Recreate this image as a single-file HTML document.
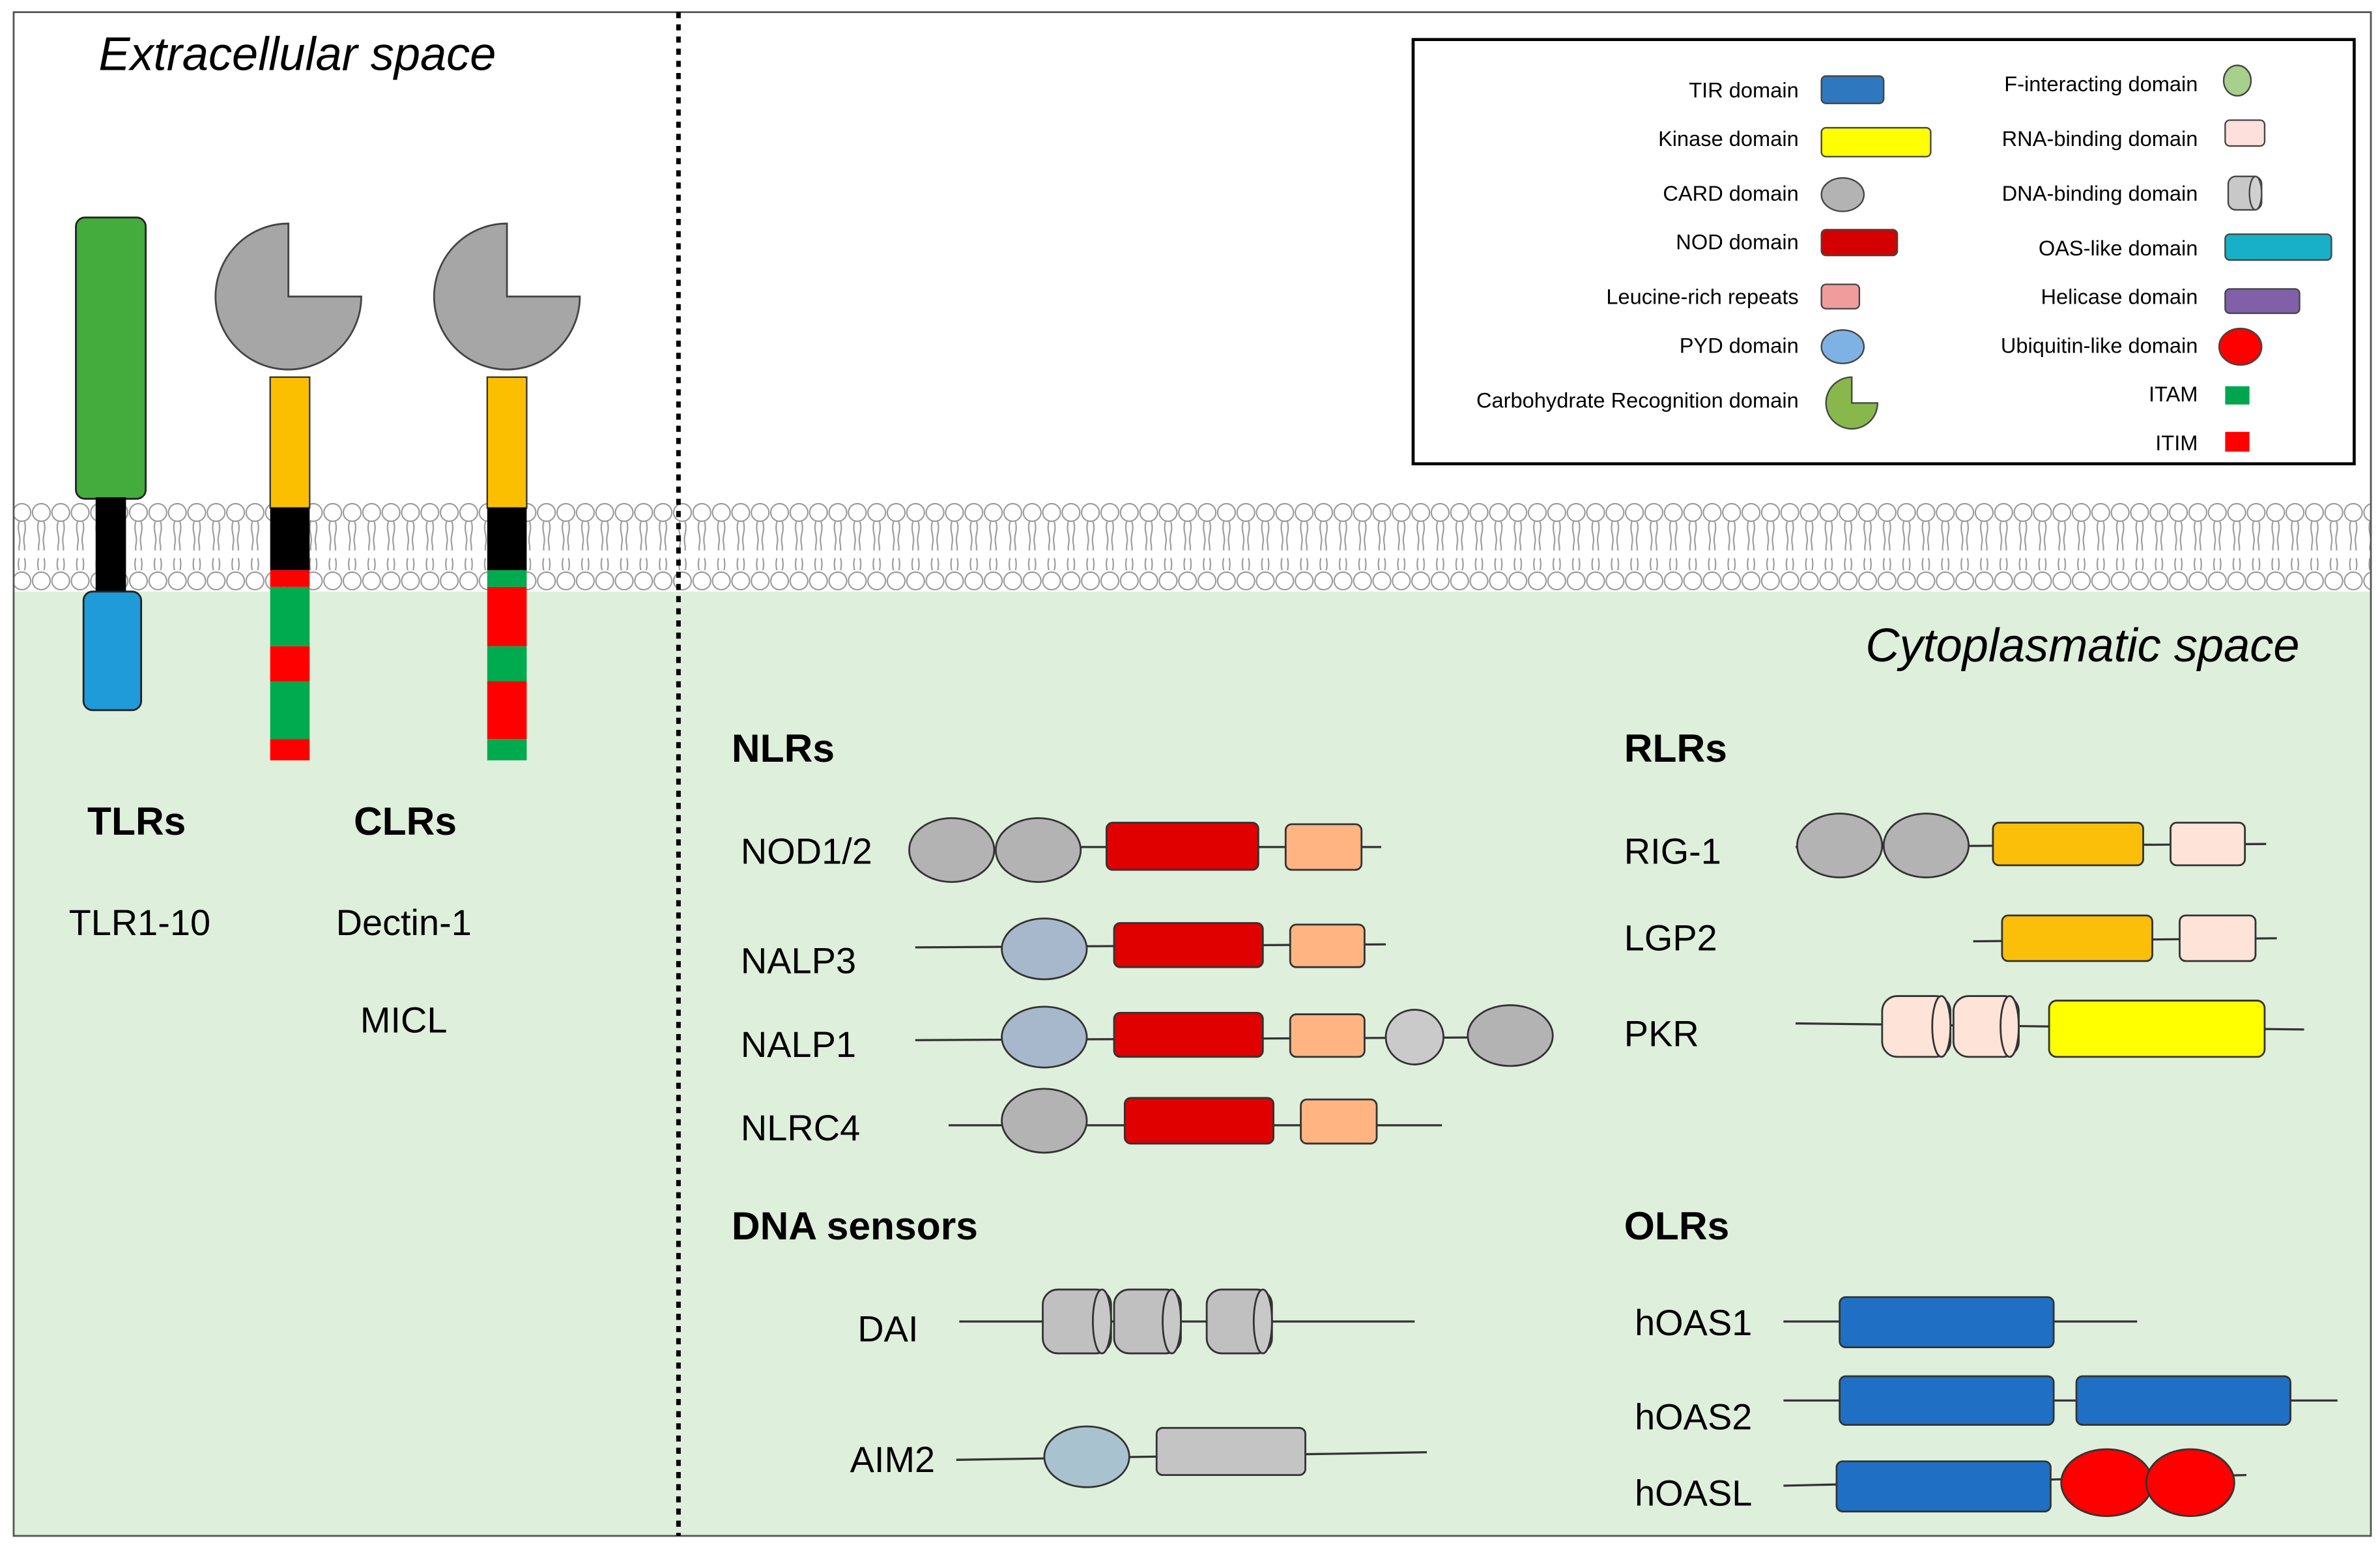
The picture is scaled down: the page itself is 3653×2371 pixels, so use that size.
<!DOCTYPE html>
<html><head><meta charset="utf-8"><style>
html,body{margin:0;padding:0;background:#fff;}
svg{display:block;}
text{font-family:"Liberation Sans",sans-serif;fill:#000;}
</style></head><body>
<svg width="3653" height="2371" viewBox="0 0 1568 1016" preserveAspectRatio="none" xmlns="http://www.w3.org/2000/svg">
<defs>
<pattern id="mem" x="8" y="0" width="12.8" height="1016" patternUnits="userSpaceOnUse">
<circle cx="6.4" cy="337" r="5.8" fill="#fff" stroke="#999" stroke-width="0.9"/>
<circle cx="6.4" cy="382" r="5.8" fill="#fff" stroke="#999" stroke-width="0.9"/>
<path d="M4.6 343 q-1 4 0 8 q1 4 0 8 M8.2 343 q1 4 0 8 q-1 4 0 8 M4.6 367 q-1 4 0 8 M8.2 367 q1 4 0 8 M4.6 359 v3 M8.2 359 v3" stroke="#999" stroke-width="0.9" fill="none"/>
</pattern>
</defs>
<rect x="0" y="0" width="1568" height="1016" fill="#fff"/>
<rect x="9" y="360" width="1553" height="650" fill="#deefdb"/>
<rect x="9" y="330" width="1553" height="59" fill="#fff"/>
<rect x="9" y="330" width="1553" height="59" fill="url(#mem)"/>
<rect x="9" y="8" width="1553" height="1002" fill="none" stroke="#555" stroke-width="1.2"/>
<line x1="447" y1="8" x2="447" y2="1010" stroke="#000" stroke-width="3" stroke-dasharray="4,4"/>

<text x="65" y="46" font-size="31" font-style="italic">Extracellular space</text>
<text x="1515" y="435" font-size="31" font-style="italic" text-anchor="end">Cytoplasmatic space</text>

<!-- TLR -->
<rect x="50" y="143" width="46" height="185" rx="6" fill="#43ac3c" stroke="#222" stroke-width="1.2"/>
<rect x="63" y="327" width="20" height="64" fill="#000"/>
<rect x="55" y="389" width="38" height="78" rx="6" fill="#1e9bd8" stroke="#222" stroke-width="1.2"/>
<!-- CLR1 -->
<path d="M190 195 L238 195 A48 48 0 1 1 190 147 Z" fill="#a6a6a6" stroke="#444" stroke-width="1.2"/>
<rect x="178" y="248" width="26" height="86" fill="#fcbf00" stroke="#333" stroke-width="1"/>
<rect x="178" y="334" width="26" height="41" fill="#000"/>
<rect x="178" y="375" width="26" height="11" fill="#f00"/>
<rect x="178" y="386" width="26" height="39" fill="#00aa4e"/>
<rect x="178" y="425" width="26" height="23" fill="#f00"/>
<rect x="178" y="448" width="26" height="38" fill="#00aa4e"/>
<rect x="178" y="486" width="26" height="14" fill="#f00"/>
<!-- CLR2 -->
<path d="M334 195 L382 195 A48 48 0 1 1 334 147 Z" fill="#a6a6a6" stroke="#444" stroke-width="1.2"/>
<rect x="321" y="248" width="26" height="86" fill="#fcbf00" stroke="#333" stroke-width="1"/>
<rect x="321" y="334" width="26" height="41" fill="#000"/>
<rect x="321" y="375" width="26" height="11" fill="#00aa4e"/>
<rect x="321" y="386" width="26" height="39" fill="#f00"/>
<rect x="321" y="425" width="26" height="23" fill="#00aa4e"/>
<rect x="321" y="448" width="26" height="38" fill="#f00"/>
<rect x="321" y="486" width="26" height="14" fill="#00aa4e"/>

<text x="90" y="549" font-size="26" font-weight="bold" text-anchor="middle">TLRs</text>
<text x="267" y="549" font-size="26" font-weight="bold" text-anchor="middle">CLRs</text>
<text x="92" y="615" font-size="24" text-anchor="middle">TLR1-10</text>
<text x="266" y="615" font-size="24" text-anchor="middle">Dectin-1</text>
<text x="266" y="679" font-size="24" text-anchor="middle">MICL</text>

<!-- Legend -->
<rect x="931" y="26" width="620" height="279" fill="#fff" stroke="#000" stroke-width="2"/>
<g font-size="14" text-anchor="end">
<text x="1185" y="64">TIR domain</text>
<text x="1185" y="96">Kinase domain</text>
<text x="1185" y="132">CARD domain</text>
<text x="1185" y="164">NOD domain</text>
<text x="1185" y="200">Leucine-rich repeats</text>
<text x="1185" y="232">PYD domain</text>
<text x="1185" y="268">Carbohydrate Recognition domain</text>
<text x="1448" y="60">F-interacting domain</text>
<text x="1448" y="96">RNA-binding domain</text>
<text x="1448" y="132">DNA-binding domain</text>
<text x="1448" y="168">OAS-like domain</text>
<text x="1448" y="200">Helicase domain</text>
<text x="1448" y="232">Ubiquitin-like domain</text>
<text x="1448" y="264">ITAM</text>
<text x="1448" y="296">ITIM</text>
</g>
<g stroke="#444" stroke-width="1">
<rect x="1200" y="50" width="41" height="18" rx="3" fill="#2e78c0"/>
<rect x="1200" y="84" width="72" height="19" rx="3" fill="#ffff00"/>
<ellipse cx="1214" cy="128" rx="14" ry="11" fill="#b3b3b3"/>
<rect x="1200" y="151" width="50" height="17" rx="3" fill="#d40000"/>
<rect x="1200" y="187" width="25" height="16" rx="3" fill="#f19c9c"/>
<ellipse cx="1214" cy="228" rx="14" ry="11" fill="#7eb2e4"/>
<path d="M1220 265 L1237 265 A17 17 0 1 1 1220 248 Z" fill="#88b84c"/>
<ellipse cx="1474" cy="53" rx="9" ry="10" fill="#a8d08d"/>
<rect x="1466" y="79" width="26" height="17" rx="3" fill="#fde0dc"/>
<rect x="1468" y="116" width="22" height="22" rx="5" fill="#c8c8c8"/>
<ellipse cx="1486" cy="127" rx="4" ry="11" fill="#d0d0d0"/>
<rect x="1466" y="154" width="70" height="17" rx="3" fill="#17b0c8"/>
<rect x="1466" y="190" width="49" height="16" rx="3" fill="#8060a8"/>
<ellipse cx="1476" cy="228" rx="14" ry="12" fill="#f00"/>
<rect x="1466" y="254" width="16" height="12" fill="#00a550" stroke="none"/>
<rect x="1466" y="284" width="16" height="13" fill="#f00" stroke="none"/>
</g>

<!-- Headers -->
<g font-size="26" font-weight="bold">
<text x="482" y="501">NLRs</text>
<text x="1070" y="501">RLRs</text>
<text x="482" y="815">DNA sensors</text>
<text x="1070" y="815">OLRs</text>
</g>
<g font-size="24">
<text x="488" y="568">NOD1/2</text>
<text x="488" y="640">NALP3</text>
<text x="488" y="695">NALP1</text>
<text x="488" y="750">NLRC4</text>
<text x="1070" y="568">RIG-1</text>
<text x="1070" y="625">LGP2</text>
<text x="1070" y="688">PKR</text>
<text x="565" y="882">DAI</text>
<text x="560" y="968">AIM2</text>
<text x="1077" y="878">hOAS1</text>
<text x="1077" y="940">hOAS2</text>
<text x="1077" y="990">hOASL</text>
</g>

<g stroke="#333" stroke-width="1.4">
<line x1="700" y1="557" x2="910" y2="557"/>
<line x1="603" y1="623" x2="913" y2="621"/>
<line x1="603" y1="684" x2="1022" y2="682"/>
<line x1="625" y1="740" x2="950" y2="740"/>
<line x1="1183" y1="557" x2="1493" y2="555"/>
<line x1="1300" y1="619" x2="1500" y2="617"/>
<line x1="1183" y1="673" x2="1518" y2="677"/>
<line x1="632" y1="869" x2="932" y2="869"/>
<line x1="630" y1="960" x2="940" y2="955"/>
<line x1="1175" y1="869" x2="1408" y2="869"/>
<line x1="1175" y1="921" x2="1540" y2="921"/>
<line x1="1175" y1="977" x2="1480" y2="970"/>
</g>
<g stroke="#333" stroke-width="1.2">
<ellipse cx="627" cy="559" rx="28" ry="21" fill="#b3b3b3"/>
<ellipse cx="684" cy="559" rx="28" ry="21" fill="#b3b3b3"/>
<rect x="729" y="541" width="100" height="31" rx="4" fill="#e00000"/>
<rect x="847" y="542" width="50" height="30" rx="4" fill="#ffb482"/>
<ellipse cx="688" cy="624" rx="28" ry="20" fill="#a8b8cc"/>
<rect x="734" y="607" width="98" height="29" rx="4" fill="#e00000"/>
<rect x="850" y="608" width="49" height="28" rx="4" fill="#ffb482"/>
<ellipse cx="688" cy="682" rx="28" ry="20" fill="#a8b8cc"/>
<rect x="734" y="666" width="98" height="29" rx="4" fill="#e00000"/>
<rect x="850" y="667" width="49" height="28" rx="4" fill="#ffb482"/>
<ellipse cx="932" cy="682" rx="19" ry="18" fill="#cacaca"/>
<ellipse cx="995" cy="681" rx="28" ry="20" fill="#b3b3b3"/>
<ellipse cx="688" cy="737" rx="28" ry="21" fill="#b3b3b3"/>
<rect x="741" y="722" width="98" height="30" rx="4" fill="#e00000"/>
<rect x="857" y="723" width="50" height="29" rx="4" fill="#ffb482"/>
<ellipse cx="1212" cy="556" rx="28" ry="21" fill="#b3b3b3"/>
<ellipse cx="1269" cy="556" rx="28" ry="21" fill="#b3b3b3"/>
<rect x="1313" y="541" width="99" height="28" rx="4" fill="#fbbf0a"/>
<rect x="1430" y="541" width="49" height="28" rx="4" fill="#fde3d8"/>
<rect x="1319" y="602" width="99" height="30" rx="4" fill="#fbbf0a"/>
<rect x="1436" y="602" width="50" height="30" rx="4" fill="#fde3d8"/>
<rect x="1240" y="655" width="45" height="40" rx="10" fill="#fde3d8"/>
<ellipse cx="1279" cy="675" rx="6" ry="20" fill="#fde3d8"/>
<rect x="1287" y="655" width="43" height="40" rx="10" fill="#fde3d8"/>
<ellipse cx="1324" cy="675" rx="6" ry="20" fill="#fde3d8"/>
<rect x="1350" y="658" width="142" height="37" rx="5" fill="#ffff00"/>
<rect x="687" y="848" width="45" height="42" rx="10" fill="#c0c0c0"/>
<ellipse cx="726" cy="869" rx="6" ry="21" fill="#c8c8c8"/>
<rect x="734" y="848" width="44" height="42" rx="10" fill="#c0c0c0"/>
<ellipse cx="772" cy="869" rx="6" ry="21" fill="#c8c8c8"/>
<rect x="795" y="848" width="43" height="42" rx="10" fill="#c0c0c0"/>
<ellipse cx="832" cy="869" rx="6" ry="21" fill="#c8c8c8"/>
<ellipse cx="716" cy="958" rx="28" ry="20" fill="#a9c2d0"/>
<rect x="762" y="939" width="98" height="31" rx="4" fill="#c4c4c4"/>
<rect x="1212" y="853" width="141" height="33" rx="4" fill="#1f6fc5"/>
<rect x="1212" y="905" width="141" height="32" rx="4" fill="#1f6fc5"/>
<rect x="1368" y="905" width="141" height="32" rx="4" fill="#1f6fc5"/>
<rect x="1210" y="961" width="141" height="33" rx="4" fill="#1f6fc5"/>
<ellipse cx="1388" cy="975" rx="30" ry="22" fill="#f00"/>
<ellipse cx="1443" cy="975" rx="29" ry="22" fill="#f00"/>
</g>
</svg>
</body></html>
